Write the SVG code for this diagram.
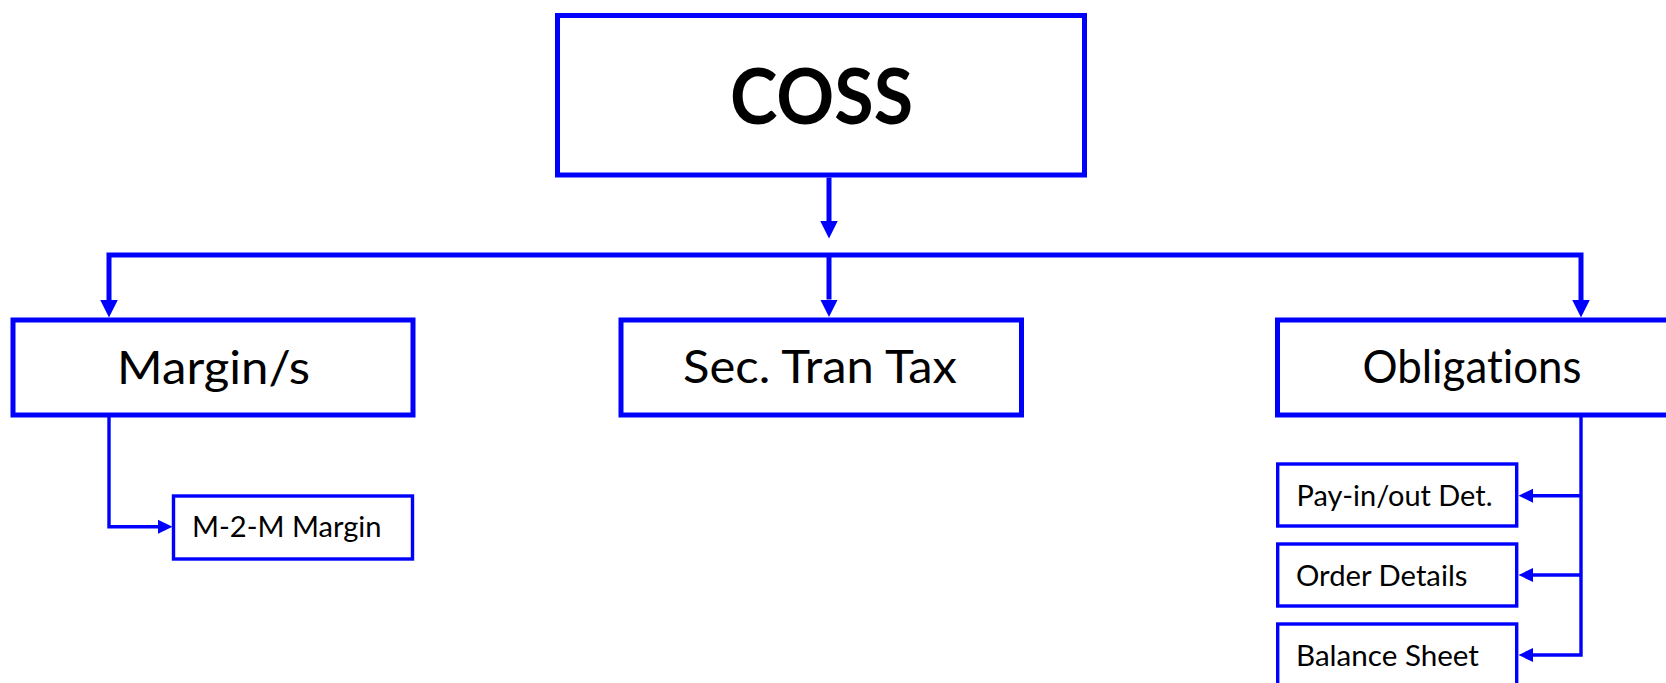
<svg xmlns="http://www.w3.org/2000/svg" width="1666" height="683" viewBox="0 0 1666 683">
  <style>
    .box { fill: #ffffff; stroke: #0000ff; stroke-width: 5; }
    .sub { fill: #ffffff; stroke: #0000ff; stroke-width: 3.4; }
    .lbl { font-family: Lato, "Open Sans", "Liberation Sans", sans-serif; fill: #000000; font-variant-ligatures: none; }
    .title { font-size: 77px; font-weight: bold; text-anchor: middle; }
    .big { font-size: 45.5px; text-anchor: middle; }
    .small { font-size: 28px; text-anchor: start; }
    .wire { fill: none; stroke: #0000ff; stroke-width: 5; stroke-linejoin: miter; }
    .thin { fill: none; stroke: #0000ff; stroke-width: 3.4; stroke-linejoin: miter; }
  </style>
  <defs>
    <marker id="head" markerUnits="userSpaceOnUse" markerWidth="18" markerHeight="18" refX="0" refY="8.75" orient="auto-start-reverse" viewBox="0 0 18 17.5">
      <path d="M0,0 L17.5,8.75 L0,17.5 z" fill="#0000ff"/>
    </marker>
    <marker id="headS" markerUnits="userSpaceOnUse" markerWidth="15" markerHeight="15" refX="0" refY="7" orient="auto" viewBox="0 0 15 14">
      <path d="M0,0 L14.5,7 L0,14 z" fill="#0000ff"/>
    </marker>
  </defs>

  <!-- connectors -->
  <g id="connectors">
    <path class="wire" d="M829,177.5 V221" marker-end="url(#head)"/>
    <path class="wire" d="M109,300 V255 H1581 V300" marker-start="url(#head)" marker-end="url(#head)"/>
    <path class="wire" d="M829,255 V299.5" marker-end="url(#head)"/>
    <path class="thin" d="M109,417 V526.7 H158" marker-end="url(#headS)"/>
    <path class="thin" d="M1581,417 V655 H1533" marker-end="url(#headS)"/>
    <path class="thin" d="M1581,495.7 H1533" marker-end="url(#headS)"/>
    <path class="thin" d="M1581,575 H1533" marker-end="url(#headS)"/>
  </g>

  <!-- root -->
  <g id="coss">
    <rect class="box" x="557.5" y="15.5" width="527" height="159.5"/>
    <text class="lbl title" x="821.5" y="124.3" textLength="183" lengthAdjust="spacingAndGlyphs">COSS</text>
  </g>

  <!-- first level -->
  <g id="margins">
    <rect class="box" x="13" y="320" width="400" height="95"/>
    <text class="lbl big" x="213.6" y="384.3" textLength="193" lengthAdjust="spacingAndGlyphs">Margin/s</text>
  </g>
  <g id="sec-tran-tax">
    <rect class="box" x="621" y="320" width="400.5" height="95"/>
    <text class="lbl big" x="820" y="383.3" textLength="274" lengthAdjust="spacingAndGlyphs">Sec. Tran Tax</text>
  </g>
  <g id="obligations">
    <rect class="box" x="1277.5" y="320" width="400" height="95"/>
    <text class="lbl big" x="1472" y="383.3" textLength="219" lengthAdjust="spacingAndGlyphs">Obligations</text>
  </g>

  <!-- second level -->
  <g id="m2m-margin">
    <rect class="sub" x="173.5" y="496" width="239" height="63"/>
    <text class="lbl small" x="192" y="537.3" textLength="189.5" lengthAdjust="spacingAndGlyphs">M-2-M Margin</text>
  </g>
  <g id="payinout">
    <rect class="sub" x="1277.7" y="464" width="239" height="62"/>
    <text class="lbl small" x="1296.5" y="506" textLength="196" lengthAdjust="spacingAndGlyphs">Pay-in/out Det.</text>
  </g>
  <g id="order-details">
    <rect class="sub" x="1277.7" y="544" width="239" height="62"/>
    <text class="lbl small" x="1296" y="585.7" textLength="171.5" lengthAdjust="spacingAndGlyphs">Order Details</text>
  </g>
  <g id="balance-sheet">
    <rect class="sub" x="1277.7" y="624" width="239" height="70"/>
    <text class="lbl small" x="1296" y="665.7" textLength="183" lengthAdjust="spacingAndGlyphs">Balance Sheet</text>
  </g>
</svg>
